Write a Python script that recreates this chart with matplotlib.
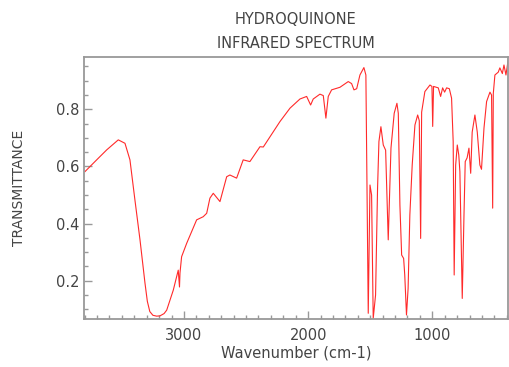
import matplotlib
matplotlib.use("Agg")
import matplotlib.pyplot as plt
from matplotlib.ticker import MultipleLocator

# values (wavenumber cm-1, transmittance)
wavenumber = [3797, 3703, 3622, 3529, 3475, 3435, 3395, 3354, 3314, 3295,
              3275, 3250, 3220, 3193, 3160, 3139, 3086, 3046, 3036, 3032,
              3019, 2978, 2898, 2845, 2817, 2791, 2764, 2710, 2656, 2630,
              2576, 2523, 2469, 2388, 2361, 2227, 2146, 2066, 2012, 1980,
              1959, 1905, 1878, 1857, 1838, 1811, 1744, 1677, 1650, 1631,
              1609, 1583, 1551, 1535, 1516, 1502, 1489, 1476, 1457, 1441,
              1430, 1414, 1395, 1376, 1355, 1333, 1307, 1285, 1274, 1261,
              1247, 1231, 1222, 1208, 1195, 1181, 1162, 1140, 1118, 1105,
              1094, 1086, 1060, 1019, 1003, 997, 990, 952, 933, 917,
              901, 885, 863, 845, 832, 824, 812, 799, 787, 778,
              759, 745, 735, 720, 705, 691, 679, 657, 638, 617,
              604, 584, 563, 536, 523, 514, 509, 496, 469, 456,
              436, 423, 407, 389]
transmittance = [0.582, 0.623, 0.658, 0.693, 0.681, 0.623, 0.483, 0.343, 0.192, 0.128,
                 0.092, 0.079, 0.076, 0.077, 0.085, 0.097, 0.167, 0.237, 0.178, 0.227,
                 0.284, 0.331, 0.413, 0.424, 0.436, 0.489, 0.506, 0.477, 0.564, 0.570,
                 0.559, 0.623, 0.617, 0.669, 0.668, 0.757, 0.804, 0.836, 0.845, 0.815,
                 0.836, 0.853, 0.848, 0.769, 0.845, 0.868, 0.877, 0.897, 0.890, 0.868,
                 0.872, 0.920, 0.946, 0.920, 0.086, 0.535, 0.500, 0.068, 0.150, 0.524,
                 0.687, 0.739, 0.675, 0.657, 0.343, 0.664, 0.786, 0.821, 0.786, 0.465,
                 0.290, 0.278, 0.220, 0.080, 0.173, 0.430, 0.605, 0.745, 0.780, 0.760,
                 0.348, 0.790, 0.862, 0.885, 0.880, 0.740, 0.880, 0.875, 0.845, 0.875,
                 0.860, 0.875, 0.872, 0.839, 0.687, 0.220, 0.605, 0.675, 0.640, 0.582,
                 0.138, 0.430, 0.617, 0.630, 0.664, 0.576, 0.720, 0.780, 0.720, 0.605,
                 0.590, 0.734, 0.827, 0.860, 0.850, 0.454, 0.855, 0.920, 0.930, 0.945,
                 0.925, 0.955, 0.920, 0.973]

title_lines = ["HYDROQUINONE", "INFRARED SPECTRUM"]
text_color = "#444444"
frame_color = "#999999"

fig = plt.figure(figsize=(5.10, 3.67), dpi=100)
ax = fig.add_axes([0.1647, 0.130, 0.8320, 0.7139])

ax.plot(wavenumber, transmittance, color="#ff2a2a", lw=0.8)

ax.set_xlim(3805, 388)
ax.set_ylim(0.065, 0.982)

ax.xaxis.set_major_locator(MultipleLocator(1000))
ax.xaxis.set_minor_locator(MultipleLocator(100))
ax.yaxis.set_major_locator(MultipleLocator(0.2))
ax.yaxis.set_minor_locator(MultipleLocator(0.05))

ax.tick_params(which="both", direction="in", colors=frame_color,
               labelcolor=text_color, labelsize=10.5, width=1)
ax.tick_params(which="major", length=6)
ax.tick_params(which="minor", length=3)
ax.tick_params(axis="x", pad=6)
for s in ax.spines.values():
    s.set_color(frame_color)
    s.set_linewidth(1.3)

ax.set_xlabel("Wavenumber (cm-1)", fontsize=10.5, color=text_color, labelpad=2)
ax.set_ylabel("TRANSMITTANCE", fontsize=10, color=text_color, labelpad=21)

fig.text(0.58, 0.948, title_lines[0], ha="center", va="center",
         fontsize=10.5, color=text_color)
fig.text(0.58, 0.882, title_lines[1], ha="center", va="center",
         fontsize=10.5, color=text_color)

fig.savefig("out.png", dpi=100)
